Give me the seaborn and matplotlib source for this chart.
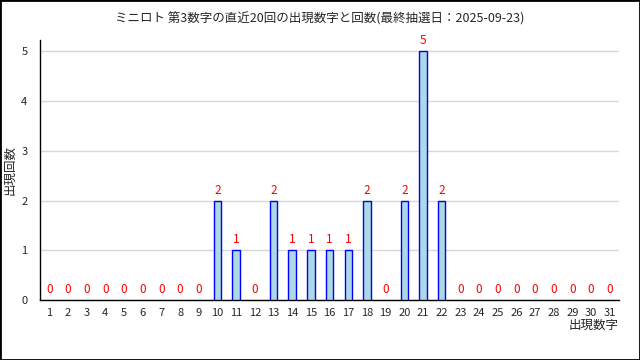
import matplotlib
matplotlib.use("Agg")
import matplotlib.pyplot as plt
from matplotlib.ticker import FixedLocator
from matplotlib.patches import Rectangle
import seaborn as sns
import pandas as pd

# データ（第3数字の出現回数）
numbers = list(range(1, 32))
counts = [0, 0, 0, 0, 0, 0, 0, 0, 0, 2, 1, 0, 2, 1, 1, 1, 1, 2, 0, 2,
          5, 2, 0, 0, 0, 0, 0, 0, 0, 0, 0]
title = "ミニロト 第3数字の直近20回の出現数字と回数(最終抽選日：2025-09-23)"

df = pd.DataFrame({"数字": numbers, "回数": counts})

sns.set_style("white")
plt.rcParams["font.family"] = ["Noto Sans CJK JP", "DejaVu Sans"]

fig = plt.figure(figsize=(6.4, 3.6), dpi=100)
ax = fig.add_axes([0.0625, 0.1667, 0.905, 0.7222])

sns.barplot(data=df, x="数字", y="回数", width=0.4, color="lightblue",
            edgecolor="blue", linewidth=1, saturation=1, ax=ax, zorder=3)

# 高さ0の棒は枠線を描かない
for p in ax.patches:
    if p.get_height() == 0:
        p.set_visible(False)

ax.set_xlim(-0.5, len(numbers) - 0.5)
ax.set_ylim(0, 5.23)
ax.set_yticks(range(0, 6))
ax.yaxis.grid(True, color="#d8d8d8", linewidth=1, zorder=0)
ax.xaxis.grid(False)

# 数字の上に回数を表示
for i, c in enumerate(counts):
    ax.text(i, c + 0.08, str(c), color="red", ha="center", va="bottom", fontsize=8.5)

for s in ["top", "right"]:
    ax.spines[s].set_visible(False)
ax.spines["left"].set_color("black")
ax.spines["bottom"].set_color("black")
ax.spines["left"].set_linewidth(1)
ax.spines["bottom"].set_linewidth(1)

ax.tick_params(axis="x", which="major", length=0, labelsize=8, pad=6)
ax.tick_params(axis="y", which="major", length=0, labelsize=8, pad=9)
ax.xaxis.set_minor_locator(FixedLocator([i + 0.5 for i in range(len(numbers))]))
ax.tick_params(axis="x", which="minor", direction="in", length=4, color="black")

ax.set_xlabel("")
ax.set_ylabel("出現回数", fontsize=9)
ax.yaxis.set_label_coords(-0.04, 0.5)
fig.text(0.966, 0.097, "出現数字", ha="right", va="center", fontsize=9)
fig.suptitle(title, fontsize=9, y=0.965)

# 外枠
fig.patches.append(Rectangle((0, 0), 1, 1, transform=fig.transFigure,
                             fill=False, edgecolor="black", linewidth=2))

fig.savefig("out.png", dpi=100)
